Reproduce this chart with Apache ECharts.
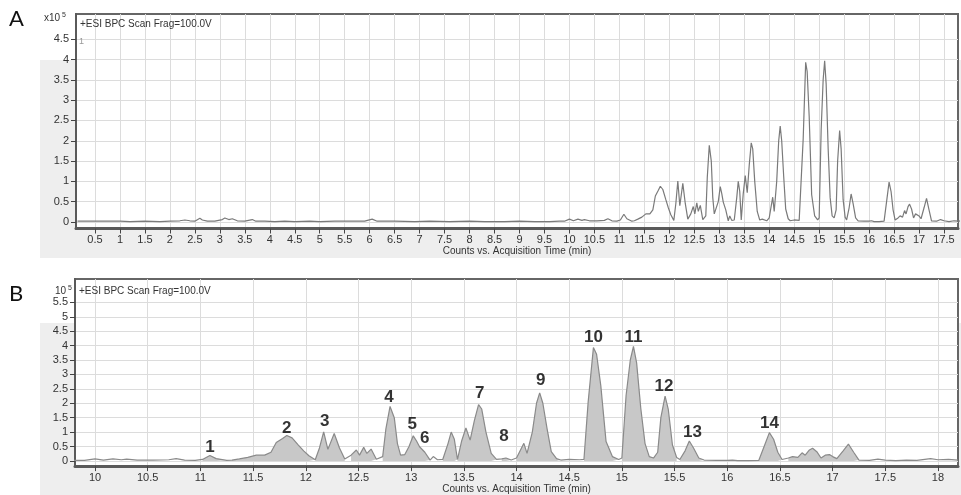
<!DOCTYPE html>
<html>
<head>
<meta charset="utf-8">
<script src="https://cdn.jsdelivr.net/npm/echarts@6/dist/echarts.min.js"></script>
<style>
html,body{margin:0;padding:0;background:#fff;}
#c{width:961px;height:495px;}
</style>
</head>
<body>
<div id="c"></div>
<script>
// ---- data (time in min, intensity in x10^5 counts) ----
var times = [
0.15,0.5,1.0,1.2,1.5,1.8,2.0,2.2,2.3,2.4,2.5,2.6,2.65,2.75,2.9,3.05,3.1,3.18,3.25,3.35,3.5,3.65,3.72,3.9,
4.1,4.3,4.5,4.8,5.0,5.3,5.6,5.9,6.05,6.15,6.5,6.9,7.2,7.6,8.0,8.3,8.7,9.0,9.3,9.6,9.8,
9.9,10.0,10.08,10.17,10.25,10.3,10.4,10.55,10.7,10.77,10.85,10.95,11.02,11.09,11.15,11.25,11.3,11.37,11.45,
11.53,11.61,11.67,11.72,11.78,11.82,11.87,11.93,11.98,12.03,12.09,12.13,12.17,12.21,12.27,12.32,12.37,
12.43,12.48,12.51,12.55,12.58,12.62,12.67,12.73,12.76,12.8,12.84,12.87,12.9,12.94,12.98,13.02,13.05,13.08,
13.13,13.18,13.21,13.25,13.3,13.35,13.38,13.41,13.44,13.48,13.52,13.56,13.6,13.64,13.67,13.71,13.76,13.81,
13.86,13.9,13.95,14.0,14.07,14.1,14.15,14.19,14.22,14.25,14.29,14.33,14.38,14.42,14.5,14.6,14.64,14.68,
14.73,14.76,14.8,14.85,14.91,14.97,15.0,15.04,15.08,15.11,15.14,15.18,15.22,15.26,15.3,15.34,15.37,15.41,
15.44,15.48,15.52,15.55,15.6,15.64,15.68,15.73,15.78,15.9,16.0,16.05,16.1,16.2,16.3,16.35,16.4,16.44,16.48,
16.52,16.58,16.62,16.67,16.71,16.74,16.78,16.81,16.85,16.89,16.93,16.97,17.0,17.04,17.1,17.15,17.2,17.25,
17.35,17.43,17.5,17.6,17.7,17.8,17.93,18.0,18.1,18.19
];
var intensity = [
0.02,0.02,0.02,0.01,0.02,0.01,0.02,0.03,0.05,0.03,0.02,0.09,0.05,0.02,0.02,0.06,0.1,0.06,0.08,0.03,0.02,0.06,0.02,0.02,
0.01,0.02,0.01,0.02,0.01,0.02,0.02,0.02,0.07,0.02,0.02,0.01,0.02,0.01,0.02,0.01,0.01,0.02,0.01,0.01,0.02,
0.02,0.07,0.03,0.07,0.04,0.06,0.03,0.03,0.04,0.08,0.03,0.02,0.05,0.19,0.08,0.02,0.03,0.07,0.12,
0.2,0.2,0.3,0.64,0.78,0.88,0.8,0.55,0.35,0.18,0.04,0.45,1.01,0.4,0.95,0.45,0.07,
0.2,0.38,0.2,0.47,0.26,0.41,0.06,0.15,1.1,1.89,1.5,0.6,0.2,0.22,0.5,0.87,0.7,0.49,
0.3,0.03,0.15,0.04,0.05,0.6,1.0,0.75,0.05,0.7,1.14,0.72,1.4,1.95,1.8,1.0,0.26,0.05,
0.07,0.1,0.03,0.1,0.61,0.26,1.0,2.0,2.36,2.0,1.12,0.32,0.08,0.03,0.05,0.04,0.05,2.04,
3.93,3.7,2.61,0.67,0.15,0.05,0.1,2.27,3.5,3.97,3.4,1.81,0.6,0.15,0.1,0.3,1.5,2.25,
1.8,0.55,0.12,0.05,0.35,0.69,0.45,0.1,0.03,0.02,0.02,0.03,0.01,0.01,0.02,0.5,0.98,0.75,0.3,
0.05,0.1,0.15,0.12,0.28,0.2,0.38,0.44,0.32,0.1,0.2,0.22,0.15,0.08,0.35,0.58,0.3,0.03,
0.02,0.06,0.03,0.01,0.03,0.02,0.08,0.04,0.05,0.03
];
// integrated (filled) peak windows in panel B
var fillStart = [11.0,11.28,12.09,12.40,12.72,12.90,13.28,13.44,13.83,13.99,14.62,14.98,15.30,15.55,16.30,16.54,16.89,17.04];
var fillEnd   = [11.25,12.09,12.37,12.68,12.90,13.18,13.44,13.81,13.95,14.42,14.97,15.30,15.54,15.78,16.52,16.89,17.04,17.27];
// peak labels in panel B
var peakNames = ['1','2','3','4','5','6','7','8','9','10','11','12','13','14'];
var peakTimes = [11.09,11.82,12.18,12.79,13.01,13.13,13.65,13.88,14.23,14.73,15.11,15.40,15.67,16.40];
var peakLabelY = [0.47,1.12,1.36,2.19,1.26,0.78,2.36,0.85,2.81,4.27,4.27,2.59,0.99,1.30];
// tick values
var xTicksA = [0.5,1,1.5,2,2.5,3,3.5,4,4.5,5,5.5,6,6.5,7,7.5,8,8.5,9,9.5,10,10.5,11,11.5,12,12.5,13,13.5,14,14.5,15,15.5,16,16.5,17,17.5];
var yTicksA = [0,0.5,1,1.5,2,2.5,3,3.5,4,4.5];
var xTicksB = [10,10.5,11,11.5,12,12.5,13,13.5,14,14.5,15,15.5,16,16.5,17,17.5,18];
var yTicksB = [0,0.5,1,1.5,2,2.5,3,3.5,4,4.5,5,5.5];

// ---- build series data ----
var trace = times.map(function(t,i){return [t,intensity[i]];});
var fillData = [];
for (var s=0;s<fillStart.length;s++){
  for (var i=0;i<times.length;i++){
    if (times[i]>=fillStart[s]-1e-9 && times[i]<=fillEnd[s]+1e-9) fillData.push([times[i],intensity[i]]);
  }
  fillData.push([fillEnd[s],'-']);
}
var labelData = peakNames.map(function(n,i){return {value:[peakTimes[i],peakLabelY[i]],name:n};});

var FONT = 'Liberation Sans';
function xAxisCfg(idx,min,max,ticks,gap){
  return {type:'value',gridIndex:idx,min:min,max:max,
    name:'Counts vs. Acquisition Time (min)',nameLocation:'middle',nameGap:gap,
    nameTextStyle:{fontFamily:FONT,fontSize:10,color:'#333'},
    axisLine:{onZero:false,lineStyle:{color:'#5a5a5a',width:3}},
    axisTick:{show:true,length:5,customValues:ticks,lineStyle:{color:'#444',width:1}},
    axisLabel:{customValues:ticks,margin:6,fontFamily:FONT,fontSize:11,color:'#333'},
    splitLine:{show:true,lineStyle:{color:'#dcdcdc',width:1}}};
}
function yAxisCfg(idx,min,max,ticks){
  return {type:'value',gridIndex:idx,min:min,max:max,
    axisLine:{show:true,onZero:false,lineStyle:{color:'#5a5a5a',width:2}},
    axisTick:{show:true,length:5,customValues:ticks,lineStyle:{color:'#444',width:1}},
    axisLabel:{customValues:ticks,margin:7,fontFamily:FONT,fontSize:11,color:'#333'},
    splitLine:{show:true,lineStyle:{color:'#dcdcdc',width:1}}};
}

var chart = echarts.init(document.getElementById('c'),null,{renderer:'canvas'});
chart.setOption({
  animation:false,
  backgroundColor:'#ffffff',
  graphic:[
    {type:'rect',z:-10,shape:{x:40,y:60,width:921,height:198},style:{fill:'#eeeeee'}},
    {type:'rect',z:-10,shape:{x:40,y:323,width:921,height:172},style:{fill:'#eeeeee'}},
    {type:'text',left:9,top:8,style:{text:'A',fontFamily:'Lato',fontSize:22,fill:'#111'}},
    {type:'text',left:9,top:283,style:{text:'B',fontFamily:'Lato',fontSize:22,fill:'#111'}},
    {type:'text',left:44,top:12,style:{text:'x10{s|5}',fontFamily:FONT,fontSize:10,fill:'#333',
      rich:{s:{fontSize:7,verticalAlign:'top',fill:'#333',padding:[0,0,5,2]}}}},
    {type:'text',left:55,top:285,style:{text:'10{s|5}',fontFamily:FONT,fontSize:10,fill:'#333',
      rich:{s:{fontSize:7,verticalAlign:'top',fill:'#333',padding:[0,0,5,2]}}}},
    {type:'text',left:80,top:19,z:10,style:{text:'+ESI BPC Scan Frag=100.0V',fontFamily:FONT,fontSize:10,fill:'#333'}},
    {type:'text',left:79,top:286,z:10,style:{text:'+ESI BPC Scan Frag=100.0V',fontFamily:FONT,fontSize:10,fill:'#333'}},
    {type:'text',left:79,top:37,z:10,style:{text:'1',fontFamily:FONT,fontSize:9,fill:'#999'}}
  ],
  grid:[
    {left:76,top:14,right:3,height:214.5,show:true,backgroundColor:'#fff',borderColor:'#666',borderWidth:2},
    {left:75,top:279,right:3,height:189,show:true,backgroundColor:'#fff',borderColor:'#666',borderWidth:2}
  ],
  xAxis:[xAxisCfg(0,0.12,17.78,xTicksA,16), xAxisCfg(1,9.81,18.19,xTicksB,17)],
  yAxis:[yAxisCfg(0,-0.16,5.12,yTicksA), yAxisCfg(1,-0.18,6.31,yTicksB)],
  series:[
    {type:'line',xAxisIndex:0,yAxisIndex:0,data:trace,showSymbol:false,symbol:'none',
     lineStyle:{color:'#7a7a7a',width:1.2},clip:true},
    {type:'line',xAxisIndex:1,yAxisIndex:1,data:fillData,showSymbol:false,symbol:'none',connectNulls:false,
     lineStyle:{width:0},areaStyle:{color:'#c8c8c8',opacity:1},clip:true,z:2},
    {type:'line',xAxisIndex:1,yAxisIndex:1,data:trace,showSymbol:false,symbol:'none',
     lineStyle:{color:'#8a8a8a',width:1.2},clip:true,z:3},
    {type:'scatter',xAxisIndex:1,yAxisIndex:1,data:labelData,symbolSize:0,z:5,
     label:{show:true,position:'inside',formatter:function(p){return p.name;},
       fontFamily:FONT,fontWeight:'bold',fontSize:17,color:'#000'}}
  ]
});
</script>
</body>
</html>
